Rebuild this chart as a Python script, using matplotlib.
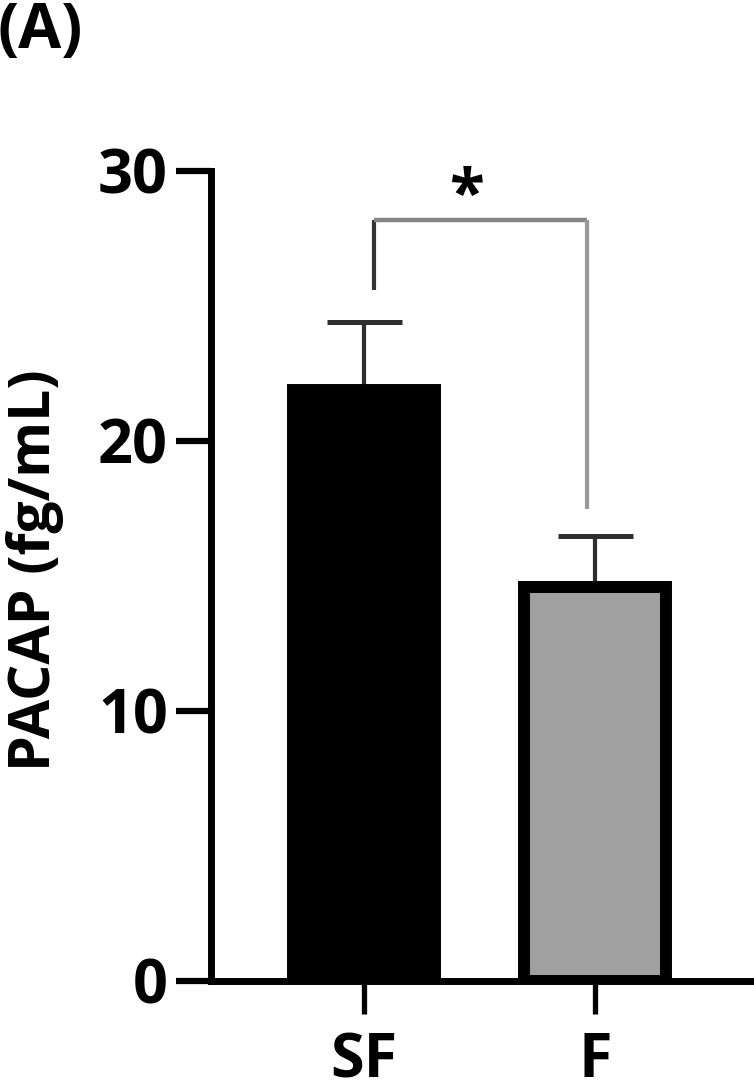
import matplotlib
matplotlib.use("Agg")
import matplotlib.pyplot as plt

plt.rcParams['font.family'] = ['Open Sans', 'DejaVu Sans']
plt.rcParams['font.weight'] = 'bold'

# data
groups = ['SF', 'F']
means = [21.9, 14.6]
sem = [2.5, 1.9]
bar_colors = ['#000000', '#a0a0a0']
yticks = [0, 10, 20, 30]

# significance bracket (SF vs F)
bracket_top = 28.2
bracket_left_end = 25.6
bracket_right_end = 17.5
sig_label = '*'

fig = plt.figure(figsize=(7.54, 10.8), dpi=100)
ax = fig.add_axes([211 / 754, 1 - 981 / 1080, (752 - 211) / 754, (981 - 171) / 1080])

x = list(range(len(groups)))
ax.bar(x, means, width=0.615, color=bar_colors, edgecolor='black', linewidth=8.6, zorder=2)
ax.errorbar(x, means, yerr=[[0] * len(sem), sem], fmt='none', ecolor='#2e2e2e',
            elinewidth=3, capsize=27, capthick=3.6, zorder=1)

# bracket
xl, xr = 0.043, 0.965
ax.plot([xl, xl], [bracket_left_end, bracket_top], color='#333333', lw=3, solid_capstyle='butt', clip_on=False)
ax.plot([xl, xr], [bracket_top, bracket_top], color='#858585', lw=3.2, solid_capstyle='butt', clip_on=False)
ax.plot([xr, xr], [bracket_top, bracket_right_end], color='#999999', lw=3, solid_capstyle='butt', clip_on=False)
ax.text((xl + xr) / 2 - 0.06, 29.0, sig_label, ha='center', va='center', fontsize=46, fontweight='bold', clip_on=False)

ax.set_xlim(-0.662, 1.68)
ax.set_ylim(0, 30)
ax.set_yticks(yticks)
ax.set_xticks(x)
ax.set_xticklabels(groups)

for side in ['top', 'right']:
    ax.spines[side].set_visible(False)
for side in ['left', 'bottom']:
    ax.spines[side].set_linewidth(5)
    ax.spines[side].set_capstyle('projecting')

ax.tick_params(axis='y', length=25, width=4.5, labelsize=44, pad=6)
ax.tick_params(axis='x', length=24, width=3.8, labelsize=44, pad=12)
for lab in ax.get_xticklabels() + ax.get_yticklabels():
    lab.set_fontweight('bold')

ax.set_ylabel('PACAP (fg/mL)', fontsize=41, fontweight='bold')
ax.yaxis.set_label_coords(-(211 - 64) / 541, (981 - 570) / 810)

fig.text(-0.003, 1.0, '(A)', ha='left', va='top', fontsize=45, fontweight='bold')

fig.savefig('out.png', dpi=100)
